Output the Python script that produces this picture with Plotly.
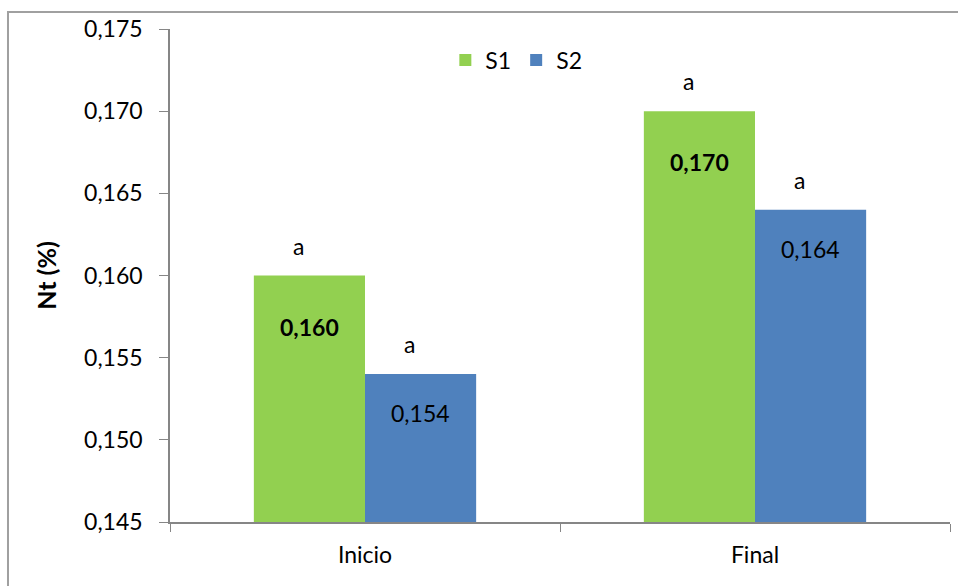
import plotly.graph_objects as go

categories = ["Inicio", "Final"]
s1_values = [0.160, 0.170]
s2_values = [0.154, 0.164]
s1_letters = ["a", "a"]
s2_letters = ["a", "a"]
series_names = ["S1", "S2"]

green = "#92D050"
blue = "#4F81BD"
axis_gray = "#868686"
font_family = "Lato, 'Open Sans', sans-serif"
fs = 23

bargap = 0.43
bar_w = (1 - bargap) / 2

fig = go.Figure()
fig.add_trace(go.Bar(x=categories, y=s1_values, name=series_names[0],
                     marker=dict(color=green, line=dict(width=0))))
fig.add_trace(go.Bar(x=categories, y=s2_values, name=series_names[1],
                     marker=dict(color=blue, line=dict(width=0))))

annotations = []
for i, cat in enumerate(categories):
    for vals, letters, off, bold, vshift in ((s1_values, s1_letters, -bar_w / 2, True, -51),
                                             (s2_values, s2_letters, bar_w / 2, False, -39)):
        v = vals[i]
        label = f"{v:.3f}".replace(".", ",")
        annotations.append(dict(
            x=i + off, y=v, xref="x", yref="y", showarrow=False,
            text=f"<b>{label}</b>" if bold else label,
            yshift=vshift, font=dict(size=fs, color="black", family=font_family)))
        annotations.append(dict(
            x=i + off, y=v, xref="x", yref="y", showarrow=False,
            text=letters[i], yshift=30, xshift=-11,
            font=dict(size=fs, color="black", family=font_family)))

fig.update_layout(
    width=958, height=586,
    margin=dict(l=170, r=8, t=29, b=64),
    paper_bgcolor="white", plot_bgcolor="white",
    barmode="group", bargap=bargap, bargroupgap=0,
    separators=", ",
    font=dict(family=font_family, size=fs, color="black"),
    showlegend=True,
    legend=dict(orientation="h", x=0.353, y=0.937, xanchor="left", yanchor="middle",
                font=dict(size=fs), itemwidth=30, bgcolor="rgba(0,0,0,0)",
                traceorder="normal"),
    annotations=annotations,
    xaxis=dict(type="category", showline=True, linecolor=axis_gray, linewidth=1.5,
               ticks="outside", tickson="boundaries", ticklen=8, tickcolor=axis_gray,
               tickfont=dict(size=fs), showgrid=False, mirror=False,
               ticklabelstandoff=12),
    yaxis=dict(range=[0.145, 0.175], dtick=0.005, tickformat=".3f",
               showline=True, linecolor=axis_gray, linewidth=1.5,
               ticks="outside", ticklen=9, tickcolor=axis_gray,
               tickfont=dict(size=fs), showgrid=False, zeroline=False,
               ticklabelstandoff=12,
               title=dict(text="<b>Nt (%)</b>", font=dict(size=25), standoff=20)),
    shapes=[dict(type="rect", xref="paper", yref="paper",
                 x0=-0.2077, x1=1.05, y0=-0.2, y1=1.0345,
                 line=dict(color="#A0A0A0", width=2), fillcolor="rgba(0,0,0,0)",
                 layer="below")],
)

fig.write_html("out.html")
